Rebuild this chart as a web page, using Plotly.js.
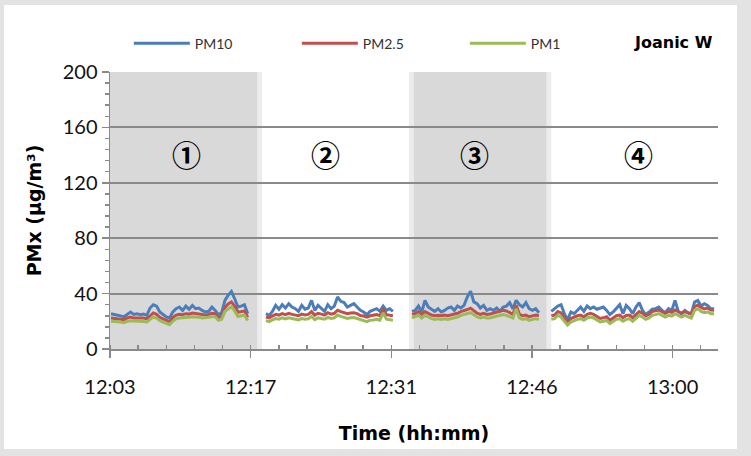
<!DOCTYPE html>
<html><head><meta charset="utf-8">
<script src="https://cdn.plot.ly/plotly-3.0.1.min.js"></script>
<style>
html,body{margin:0;padding:0;background:#e3e3e3;width:751px;height:456px;overflow:hidden}
#chart{position:absolute;left:4px;top:5px;width:733px;height:444px;background:#fff}
</style></head><body><div id="chart"></div>
<script>
// ---- data ----
const seriesNames = ['PM10', 'PM2.5', 'PM1'];
const stationName = 'Joanic W';
const phaseLabels = ['①', '②', '③', '④'];
const segmentStarts = ['12:03:06', '12:18:58', '12:33:55', '12:48:11'];
const sampleSeconds = 20;
const shadedPhases = [['12:02:30', '12:18:34'], ['12:33:37', '12:48:11']];
const xTickTimes = ['12:03:00', '12:17:24', '12:31:48', '12:46:12', '13:00:36'];
const xTickLabels = ['12:03', '12:17', '12:31', '12:46', '13:00'];
const yTickValues = [0, 40, 80, 120, 160, 200];

const pm10Seg1 = [25.5,24.8,24.3,23.8,23.3,25.3,26.7,25.0,25.5,24.8,25.3,24.3,29.6,32.0,31.0,26.7,24.8,23.1,22.4,26.7,29.1,30.3,27.9,31.0,28.7,31.5,29.1,29.6,27.9,26.7,27.2,30.3,27.9,24.8,26.2,35.1,38.8,41.5,36.3,30.3,31.0,32.0,25.5];
const pm25Seg1 = [22.3,22.0,21.8,21.5,21.2,22.5,23.0,22.3,22.4,22.2,22.4,21.8,24.0,26.0,25.0,22.8,21.8,20.5,19.8,22.6,24.5,25.0,24.8,25.5,25.2,26.0,25.6,25.3,24.7,24.5,25.0,25.8,25.5,22.8,23.5,30.0,32.5,34.0,31.0,26.5,27.0,27.5,22.8];
const pm1Seg1  = [20.0,20.0,19.5,19.5,19.0,20.0,20.4,20.0,20.0,20.0,20.0,19.5,21.4,23.1,22.4,20.4,19.5,18.3,17.6,20.0,21.9,22.4,22.4,22.9,22.9,23.3,23.3,22.9,22.4,22.4,22.9,23.3,23.3,20.7,21.4,27.2,29.1,30.5,27.5,23.5,24.0,24.5,20.5];

const pm10Seg2 = [25.5,24.3,27.2,31.5,28.7,32.0,29.6,32.7,30.3,29.1,27.2,31.5,28.7,29.6,35.1,27.9,31.5,29.6,27.2,32.0,29.1,31.0,37.6,34.4,33.5,30.3,31.5,32.7,30.3,27.9,26.7,24.8,27.2,27.9,29.1,27.2,31.0,27.9,29.1,27.2];
const pm25Seg2 = [23.0,22.5,23.8,25.0,24.5,25.5,24.8,25.8,25.0,24.6,24.0,25.2,24.6,25.0,27.0,24.5,25.8,25.2,24.5,26.2,25.2,25.8,28.0,27.0,26.5,25.5,26.0,26.2,25.5,24.2,23.8,23.0,24.0,24.3,24.8,24.0,28.5,24.8,24.3,24.0];
const pm1Seg2  = [20.5,19.8,21.0,22.0,21.5,22.5,21.8,22.5,22.0,21.6,21.0,22.0,21.5,21.8,23.5,21.2,22.5,22.0,21.5,22.8,22.0,22.5,24.5,23.5,23.0,22.0,22.5,22.8,22.0,21.0,20.5,19.8,20.8,21.0,21.5,20.8,26.0,21.5,21.0,20.8];

const pm10Seg3 = [27.2,27.9,31.0,26.7,35.1,30.3,28.7,27.2,29.1,26.7,27.9,29.6,30.3,27.9,31.0,29.6,31.5,37.6,41.8,34.0,32.7,29.6,31.5,27.9,29.1,27.9,29.6,27.2,30.3,31.0,33.5,29.1,35.1,32.0,30.3,33.5,29.1,27.9,29.1,26.2];
const pm25Seg3 = [25.0,25.6,27.0,25.0,27.0,25.8,24.5,24.0,24.4,24.0,24.5,24.0,24.5,25.0,25.8,27.0,27.5,28.5,29.5,27.5,25.8,25.0,25.8,25.0,25.2,26.0,26.5,27.2,28.0,27.5,26.0,25.0,31.5,25.2,24.0,24.5,23.3,24.0,24.5,24.0];
const pm1Seg3  = [22.4,23.1,24.3,22.4,24.3,23.1,21.9,21.4,21.9,21.4,21.9,21.4,21.9,22.4,23.1,24.3,24.8,25.5,26.2,24.8,23.1,22.4,23.1,22.4,22.4,23.1,23.8,24.3,24.8,24.3,23.1,22.4,29.0,22.4,21.4,21.9,20.7,21.4,21.9,21.4];

const pm10Seg4 = [27.2,29.1,31.0,32.0,25.5,21.0,26.7,25.5,27.9,30.3,27.2,31.0,29.1,30.3,28.7,29.6,30.3,27.9,24.8,26.7,29.1,32.0,25.5,31.5,29.1,25.5,30.3,33.5,27.9,24.8,26.7,28.7,29.1,30.3,27.9,26.2,29.1,27.9,35.1,27.2,25.5,27.9,26.2,25.5,33.9,35.1,31.0,32.7,31.5,29.1,29.1];
const pm25Seg4 = [24.0,24.5,27.0,26.0,22.5,19.5,22.0,23.2,24.0,24.5,23.2,25.0,25.8,25.0,23.3,22.0,22.5,23.3,20.8,22.5,24.0,24.5,22.6,24.2,24.5,22.6,25.0,27.0,25.8,24.0,25.0,27.0,27.5,28.2,27.0,25.8,27.0,26.5,28.2,27.0,25.8,27.0,25.8,25.0,30.5,31.8,30.0,29.0,29.5,28.2,28.0];
const pm1Seg4  = [21.4,21.9,24.3,23.1,20.0,17.3,19.5,20.7,21.4,21.9,20.7,22.4,23.1,22.4,20.7,19.5,20.0,20.7,18.3,20.0,21.4,21.9,20.0,21.4,21.9,20.0,22.4,24.3,23.1,21.4,22.4,24.3,24.8,25.5,24.3,23.1,24.3,23.8,25.5,24.3,23.1,24.3,23.1,22.4,27.9,29.1,27.2,26.2,26.7,25.5,25.5];

// ---- helpers ----
const DAY = '2024-01-01 ';
function ms(hms) { const p = hms.split(':').map(Number); return Date.UTC(2024, 0, 1, p[0], p[1], p[2] || 0); }
function pad(n) { return (n < 10 ? '0' : '') + n; }
function iso(v) { const d = new Date(v); return DAY + pad(d.getUTCHours()) + ':' + pad(d.getUTCMinutes()) + ':' + pad(d.getUTCSeconds()); }
function build(segs) {
  const xs = [], ys = [];
  segs.forEach((vals, k) => {
    const s = ms(segmentStarts[k]);
    vals.forEach((v, i) => { xs.push(iso(s + i * sampleSeconds * 1000)); ys.push(v); });
    if (k < segs.length - 1) { xs.push(iso(s + vals.length * sampleSeconds * 1000)); ys.push(null); }
  });
  return { x: xs, y: ys };
}

const seriesData = [
  build([pm10Seg1, pm10Seg2, pm10Seg3, pm10Seg4]),
  build([pm25Seg1, pm25Seg2, pm25Seg3, pm25Seg4]),
  build([pm1Seg1, pm1Seg2, pm1Seg3, pm1Seg4])
];
const colors = ['#4a7ebb', '#c0504d', '#9bbb59'];

const traces = seriesData.map((d, i) => ({
  type: 'scatter', mode: 'lines', name: seriesNames[i], x: d.x, y: d.y,
  line: { color: colors[i], width: 3 }, connectgaps: false, hoverinfo: 'skip'
}));

const shapes = [];
shadedPhases.forEach(p => {
  const a = ms(p[0]), b = ms(p[1]), e = 30000;
  shapes.push({ type: 'rect', xref: 'x', yref: 'paper', x0: iso(a), x1: iso(b), y0: 0, y1: 1,
    fillcolor: '#ececec', line: { width: 0 }, layer: 'below' });
  shapes.push({ type: 'rect', xref: 'x', yref: 'paper', x0: iso(a + e), x1: iso(b - e), y0: 0, y1: 1,
    fillcolor: '#d9d9d9', line: { width: 0 }, layer: 'below' });
});

const labelTimes = ['12:10:47', '12:25:01', '12:40:22', '12:57:04'];
const annotations = phaseLabels.map((t, i) => ({
  x: iso(ms(labelTimes[i])), y: 141, xref: 'x', yref: 'y', text: t, showarrow: false,
  font: { family: 'Noto Sans CJK JP', size: 29, color: '#000', weight: 700 }
}));
annotations.push({ x: 0.926, y: 1.108, xref: 'paper', yref: 'paper', text: '<b>' + stationName + '</b>',
  showarrow: false, xanchor: 'center', yanchor: 'middle',
  font: { family: 'DejaVu Sans', size: 16, color: '#000' } });

const layout = {
  width: 733, height: 444,
  margin: { l: 106, r: 19, t: 67, b: 100 },
  paper_bgcolor: '#ffffff', plot_bgcolor: 'rgba(0,0,0,0)',
  showlegend: true,
  legend: { orientation: 'h', x: 0.031, y: 1.102, xanchor: 'left', yanchor: 'middle',
    entrywidth: 97, entrywidthmode: 'pixels', itemwidth: 56,
    font: { family: 'Lato', size: 14, color: '#333' }, bgcolor: 'rgba(0,0,0,0)' },
  xaxis: {
    type: 'date', range: [iso(ms('12:03:00')), iso(ms('13:05:15'))],
    tickmode: 'array', tickvals: xTickTimes.map(s => iso(ms(s))), ticktext: xTickLabels,
    ticks: 'outside', ticklen: 7, tickcolor: '#8a8a8a', tickwidth: 1.5,
    minor: { tickmode: 'linear', tick0: iso(ms('12:03:00')), dtick: 172800, ticks: 'inside', ticklen: 4, tickcolor: '#8a8a8a', showgrid: false },
    showline: true, linecolor: '#8a8a8a', linewidth: 1.5, showgrid: false, zeroline: false,
    ticklabelstandoff: 12,
    tickfont: { family: 'Lato', size: 20, color: '#111' },
    title: { text: '<b>Time (hh:mm)</b>', font: { family: 'DejaVu Sans', size: 19, color: '#000' }, standoff: 30 }
  },
  yaxis: {
    range: [0, 200], tickmode: 'array', tickvals: yTickValues,
    ticks: 'outside', ticklen: 7, tickcolor: '#8a8a8a', tickwidth: 1.5,
    minor: { dtick: 8, tick0: 0, ticks: 'outside', ticklen: 4, tickcolor: '#8a8a8a', showgrid: false },
    showline: true, linecolor: '#8a8a8a', linewidth: 1.5,
    showgrid: true, gridcolor: '#8a8a8a', gridwidth: 2, zeroline: false,
    tickfont: { family: 'Lato', size: 20, color: '#111' },
    title: { text: '<b>PMx (µg/m³)</b>', font: { family: 'DejaVu Sans', size: 19, color: '#000' }, standoff: 16 }
  },
  shapes: shapes,
  annotations: annotations
};

Plotly.newPlot('chart', traces, layout, { staticPlot: true, displayModeBar: false });
</script></body></html>
